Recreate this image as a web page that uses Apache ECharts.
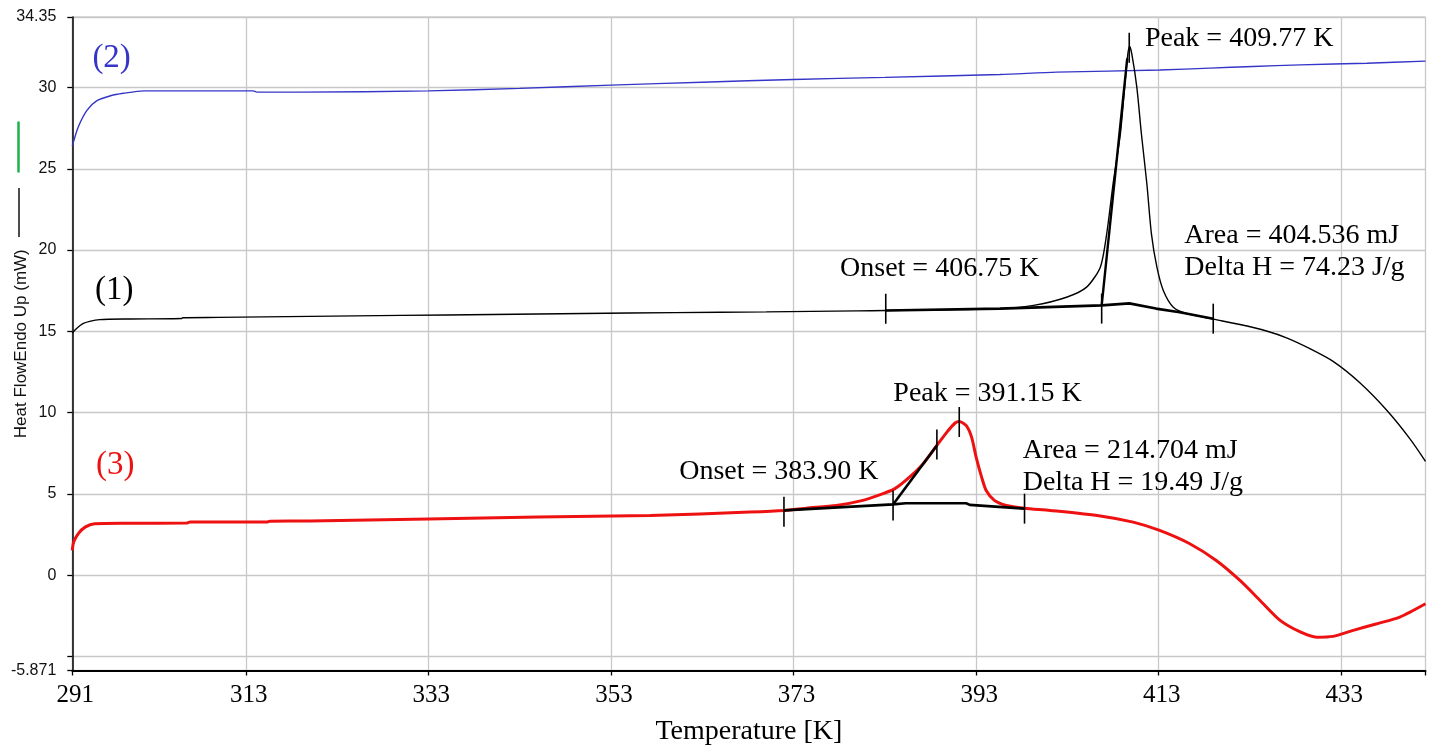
<!DOCTYPE html>
<html><head><meta charset="utf-8">
<script src="https://cdn.jsdelivr.net/npm/echarts@6/dist/echarts.min.js"></script>
<style>html,body{margin:0;padding:0;background:#fff}#c{width:1436px;height:748px}</style>
</head><body><div id="c"></div>
<script>
// ---- axis ticks ----
const xTickValues = [294, 313, 333, 353, 373, 393, 413, 433, 442.22];
const xTickLabels = ['291', '313', '333', '353', '373', '393', '413', '433', ''];
const yTickValues = [-5.871, -5, 0, 5, 10, 15, 20, 25, 30, 34.35];
const yTickLabels = ['-5.871', '', '0', '5', '10', '15', '20', '25', '30', '34.35'];

// ---- curve (2) blue ----
const curve2 = [[294,26.4],[294.65,27.57],[295.6,28.6],[296.7,29.2],[298.2,29.5],[299.6,29.65],[301.8,29.8],[313.8,29.8],[314.2,29.72],[319,29.72],[333,29.8],[343,29.95],[353,30.15],[363,30.33],[373,30.5],[383,30.63],[395.6,30.81],[401.8,30.95],[413.1,31.08],[418.6,31.2],[423.3,31.3],[428.5,31.4],[435.8,31.5],[442.22,31.63]];

// ---- curve (1) black ----
const curve1 = [[294,14.89],[294.44,15.16],[295.16,15.47],[295.9,15.61],[297,15.72],[300,15.76],[306,15.79],[306.1,15.84],[310,15.86],[320,15.92],[330,15.98],[340,16.04],[350,16.1],[360,16.15],[370,16.2],[380,16.26],[383.1,16.28],[390,16.33],[395.6,16.4],[399.3,16.6],[402.9,17.1],[405.1,17.72],[406.6,18.95],[407.3,21.0],[408.0,24.08],[408.8,27.16],[409.3,30.24],[409.6,32.0],[409.8,32.55],[410.05,32.08],[410.6,30.03],[411.1,27.16],[411.7,24.08],[412.2,21.0],[412.8,18.95],[413.5,17.52],[414.6,16.49],[416.1,16.09],[419.0,15.75],[421.9,15.42],[424.8,15.02],[427.0,14.6],[429.5,13.95],[432.1,13.15],[435.0,11.85],[438.0,10.13],[440.5,8.4],[442.22,7.0]];

// ---- curve (3) red ----
const curve3 = [[294,1.52],[294.15,2.03],[294.66,2.55],[295.4,2.95],[296.45,3.16],[300,3.19],[306.5,3.2],[306.9,3.26],[315.3,3.26],[315.65,3.32],[320,3.33],[333,3.45],[345,3.57],[357.3,3.67],[368.2,3.88],[372,3.98],[374.4,4.12],[377.7,4.29],[380.6,4.6],[382.8,5.01],[384.1,5.32],[385.7,6.03],[387.2,6.86],[388.7,7.98],[389.8,8.8],[390.7,9.36],[391.15,9.45],[391.9,9.21],[392.5,8.49],[393.0,7.26],[393.6,6.03],[394.1,5.21],[395.0,4.6],[396.3,4.29],[398.3,4.12],[401.1,3.98],[406.6,3.64],[410.2,3.26],[413.1,2.75],[416.4,1.93],[419.3,0.9],[421.9,-0.33],[424.1,-1.56],[426.3,-2.79],[428.5,-3.5],[430.3,-3.82],[432.1,-3.77],[434.3,-3.4],[436.9,-2.99],[439.4,-2.58],[442.22,-1.76]];

// ---- peak analysis constructions ----
const baseline1 = [[383.1,16.28],[395.6,16.4],[406.75,16.6],[409.77,16.72],[412.7,16.4],[415.3,16.18],[418.97,15.78]];
const tangent1 = [[406.75,16.6],[409.55,31.8]];
const marks1 = [[383.1,16.39],[406.75,16.4],[409.77,32.45],[418.97,15.78]];
const baseline3 = [[371.95,3.98],[383.9,4.35],[385.3,4.42],[391.9,4.42],[392.3,4.32],[398.3,4.09]];
const tangent3 = [[383.9,4.35],[388.7,7.98]];
const marks3 = [[371.95,3.9],[383.9,4.29],[388.7,8.04],[391.15,9.42],[398.3,4.09]];

// ---- annotations ----
const annotTexts = ['Peak = 409.77 K','Onset = 406.75 K','Area = 404.536 mJ','Delta H = 74.23 J/g','Peak = 391.15 K','Onset = 383.90 K','Area = 214.704 mJ','Delta H = 19.49 J/g'];
const annotPos = [[411.49,33.01],[378.09,18.87],[415.8,20.9],[415.8,18.95],[383.93,11.16],[360.48,6.34],[398.1,7.67],[398.1,5.72]];
const curveNames = ['(2)', '(1)', '(3)'];
const curveNamePos = [[296.2,31.8],[296.5,17.5],[296.6,6.75]];
const curveColors = ['#3535c8', '#000000', '#ee1111'];

const SERIF = "'Liberation Serif','Times New Roman',serif";
const SANS = "'Liberation Sans',Arial,sans-serif";

const chart = echarts.init(document.getElementById('c'), null, {renderer: 'canvas'});

const textData = annotTexts.map((t, i) => ({name: t, value: annotPos[i]}));
const nameData = curveNames.map((t, i) => ({
  name: t, value: curveNamePos[i],
  label: {color: curveColors[i]}
}));

function lineSeries(data, color, width) {
  return {type: 'line', data: data, showSymbol: false, symbol: 'none',
    lineStyle: {color: color, width: width, opacity: 1}, smooth: 0.25,
    silent: true, z: 2};
}
function straight(data, width) {
  return {type: 'line', data: data, showSymbol: false, symbol: 'none',
    lineStyle: {color: '#000', width: width, opacity: 1}, silent: true, z: 4};
}
function markSeries(data) {
  return {type: 'scatter', data: data, symbol: 'rect', symbolSize: [1.6, 30],
    itemStyle: {color: '#000', opacity: 1}, silent: true, z: 5};
}

chart.setOption({
  animation: false,
  grid: {left: 72.3, right: 10.5, top: 16.9, bottom: 77.5, show: true,
    containLabel: false, outerBoundsMode: 'none',
    borderColor: '#c8c8c8', borderWidth: 1, backgroundColor: 'transparent'},
  xAxis: {
    type: 'value', min: 294, max: 442.22,
    name: 'Temperature [K]', nameLocation: 'middle', nameGap: 47, nameMoveOverlap: false,
    nameTextStyle: {fontFamily: SERIF, fontSize: 28, color: '#000'},
    axisLine: {show: true, onZero: false, lineStyle: {color: '#000', width: 1.8}},
    axisTick: {show: true, length: 5, inside: false, customValues: xTickValues,
      lineStyle: {color: '#000', width: 1.3}},
    axisLabel: {customValues: xTickValues.slice(0, 8), margin: 12, padding: [0, 0, 0, 6],
      fontFamily: SERIF, fontSize: 25, color: '#000',
      formatter: v => { const i = xTickValues.findIndex(t => Math.abs(t - v) < 1e-6); return i >= 0 ? xTickLabels[i] : ''; }},
    splitLine: {show: true, lineStyle: {color: '#c8c8c8', width: 1.3}}
  },
  yAxis: {
    type: 'value', min: -5.871, max: 34.35,
    name: 'Heat FlowEndo Up (mW)', nameLocation: 'middle', nameGap: 42, nameRotate: 90,
    nameMoveOverlap: false,
    nameTextStyle: {fontFamily: SANS, fontSize: 17, color: '#111'},
    axisLine: {show: true, onZero: false, lineStyle: {color: '#000', width: 1.5}},
    axisTick: {show: true, length: 5, inside: false, customValues: yTickValues,
      lineStyle: {color: '#000', width: 1.3}},
    axisLabel: {customValues: yTickValues.filter((v, i) => yTickLabels[i] !== ''), margin: 16,
      fontFamily: SANS, fontSize: 16, color: '#111',
      formatter: v => { const i = yTickValues.findIndex(t => Math.abs(t - v) < 1e-6); return i >= 0 ? yTickLabels[i] : ''; }},
    splitLine: {show: true, lineStyle: {color: '#c8c8c8', width: 1.3}}
  },
  graphic: [
    {type: 'line', shape: {x1: 18.5, y1: 121.5, x2: 18.5, y2: 172.5}, style: {stroke: '#1fb04a', lineWidth: 2.5}, silent: true},
    {type: 'line', shape: {x1: 19, y1: 188, x2: 19, y2: 237}, style: {stroke: '#111', lineWidth: 1.5}, silent: true}
  ],
  series: [
    lineSeries(curve2, curveColors[0], 1.4),
    lineSeries(curve1, curveColors[1], 1.4),
    lineSeries(curve3, curveColors[2], 3),
    straight(baseline1, 2.6), straight(tangent1, 2.4),
    straight(baseline3, 2.6), straight(tangent3, 2.6),
    markSeries(marks1), markSeries(marks3),
    {type: 'scatter', data: textData, symbolSize: 0, silent: true, z: 6,
      itemStyle: {opacity: 1},
      label: {show: true, position: 'right', distance: 0, formatter: p => p.name,
        fontFamily: SERIF, fontSize: 28, color: '#000', opacity: 1}},
    {type: 'scatter', data: nameData, symbolSize: 0, silent: true, z: 6,
      itemStyle: {opacity: 1},
      label: {show: true, position: 'right', distance: 0, formatter: p => p.name,
        fontFamily: SERIF, fontSize: 33, opacity: 1}}
  ]
});
</script></body></html>
